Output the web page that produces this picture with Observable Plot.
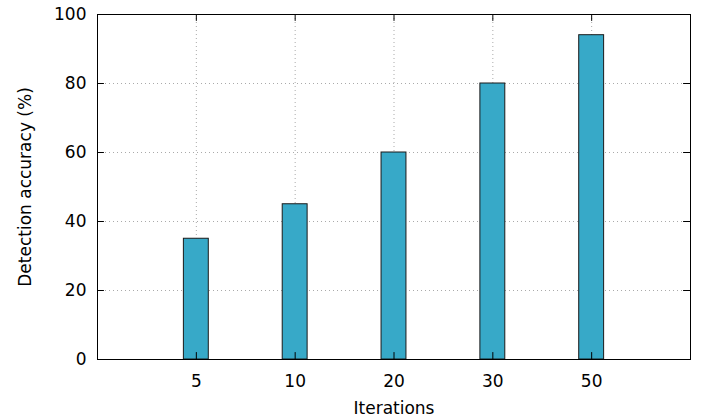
<!DOCTYPE html>
<html>
<head>
<meta charset="utf-8">
<script src="https://cdn.jsdelivr.net/npm/d3@7"></script>
<script src="https://cdn.jsdelivr.net/npm/@observablehq/plot@0.6"></script>
<style>
  html, body { margin: 0; padding: 0; background: #fff; }
  svg { display: block; }
</style>
</head>
<body>
<div id="chart"></div>
<script>
const categories = ["5", "10", "20", "30", "50"];
const accuracy = [35, 45, 60, 80, 94];
const yTicks = [0, 20, 40, 60, 80, 100];

const data = categories.map((c, i) => ({cat: c, pos: i + 1, value: accuracy[i]}));
const halfWidth = 0.126;
const tickLen = 0.07;

const chart = Plot.plot({
  width: 709,
  height: 420,
  marginLeft: 97,
  marginRight: 19,
  marginTop: 14,
  marginBottom: 61,
  style: {fontFamily: "DejaVu Sans", fontSize: "17px", color: "#000", background: "#fff"},
  x: {domain: [0, categories.length + 1], label: null},
  y: {domain: [0, 100], label: null},
  marks: [
    Plot.ruleY(yTicks.filter(t => t > 0 && t < 100), {stroke: "#aaa", strokeDasharray: "1,3", strokeWidth: 1}),
    Plot.ruleX(data, {x: "pos", stroke: "#aaa", strokeDasharray: "1,3", strokeWidth: 1}),
    Plot.rectY(data, {x1: d => d.pos - halfWidth, x2: d => d.pos + halfWidth, y1: 0, y2: "value", fill: "#37A9C8", stroke: "#1a1a1a", strokeWidth: 1}),
    Plot.ruleY(yTicks, {x1: 0, x2: tickLen, stroke: "#000"}),
    Plot.ruleY(yTicks, {x1: categories.length + 1 - tickLen, x2: categories.length + 1, stroke: "#000"}),
    Plot.ruleX(data, {x: "pos", y1: 100 - 2, y2: 100, stroke: "#000"}),
    Plot.ruleX(data, {x: "pos", y1: 0, y2: 2, stroke: "#000"}),
    Plot.frame({stroke: "#000", strokeWidth: 1}),
    Plot.axisY(yTicks, {tickSize: 0, tickPadding: 11, label: null, fontSize: 17}),
    Plot.axisX(data.map(d => d.pos), {tickSize: 0, tickPadding: 15, tickFormat: p => categories[p - 1], label: null, fontSize: 17}),
    Plot.text(["Iterations"], {frameAnchor: "bottom", dy: 54, fontSize: 17}),
    Plot.text(["Detection accuracy (%)"], {frameAnchor: "left", textAnchor: "middle", dx: -72, rotate: -90, fontSize: 17})
  ]
});
document.getElementById("chart").appendChild(chart);
</script>
</body>
</html>
